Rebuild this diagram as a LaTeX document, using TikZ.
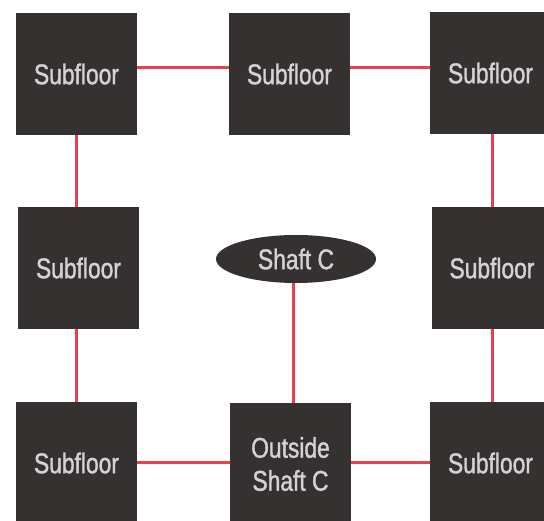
\documentclass[tikz,border=0pt]{standalone}
\usepackage{fontspec}
\setmainfont{Liberation Sans}[FakeStretch=0.80,FakeBold=1.2]
\usetikzlibrary{shapes.geometric}
\definecolor{boxgray}{HTML}{353131}
\definecolor{txtgray}{HTML}{D4D2D2}
\definecolor{linkred}{HTML}{E8404F}
\tikzset{
  floorbox/.style={draw=none, fill=boxgray, minimum width=121pt, minimum height=122pt, inner sep=0pt,
    text=txtgray, font=\fontsize{28.5}{33}\selectfont, align=center},
  shaftell/.style={ellipse, draw=none, fill=boxgray, minimum width=160pt, minimum height=48pt, inner sep=0pt,
    text=txtgray, font=\fontsize{28.5}{33}\selectfont},
  link/.style={draw=linkred, line width=3pt}
}
\begin{document}
\begin{tikzpicture}[x=1pt,y=1pt]
\useasboundingbox (0,0) rectangle (544,-521);
\clip (0,0) rectangle (544,-521);
\fill[white] (0,0) rectangle (544,-521);
\node[floorbox] (tl) at (76.5,-74) {Subfloor};
\node[floorbox] (tm) at (289.5,-74) {Subfloor};
\node[floorbox] (tr) at (490.5,-73) {Subfloor};
\node[floorbox] (ml) at (78.5,-268) {Subfloor};
\node[shaftell] (sc) at (296,-259) {Shaft C};
\node[floorbox] (mr) at (492,-268) {Subfloor};
\node[floorbox] (bl) at (76.5,-463) {Subfloor};
\node[floorbox] (bm) at (290.5,-464) {Outside\\Shaft C};
\node[floorbox] (br) at (490.5,-463) {Subfloor};
\draw[link] ([yshift=6pt]tl.east) -- ([yshift=6pt]tm.west);
\draw[link] ([yshift=6pt]tm.east) -- ([yshift=5pt]tr.west);
\draw[link] (tl.south) -- (ml.north -| tl.south);
\draw[link] (ml.south -| bl.north) -- (bl.north);
\draw[link] ([xshift=1.5pt]tr.south) -- ([xshift=1.5pt]tr.south |- mr.north);
\draw[link] ([xshift=1.5pt]tr.south |- mr.south) -- ([xshift=1.5pt]br.north);
\draw[link] ([xshift=-3pt]sc.south) -- ([xshift=-3pt]sc.south |- bm.north);
\draw[link] (bl.east) -- (bm.west |- bl.east);
\draw[link] (bm.east |- br.west) -- (br.west);
\end{tikzpicture}
\end{document}
